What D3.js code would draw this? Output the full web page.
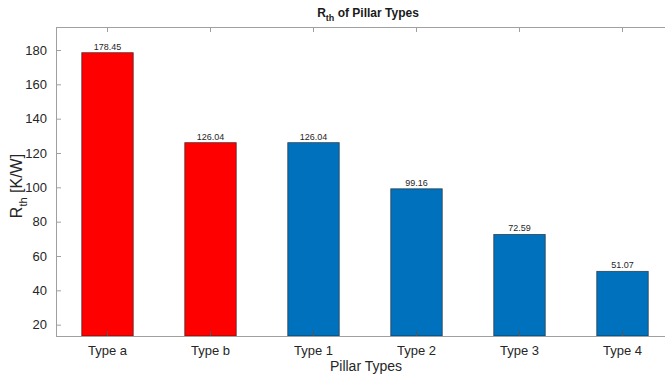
<!DOCTYPE html>
<html>
<head>
<meta charset="utf-8">
<script src="https://cdn.jsdelivr.net/npm/d3@7"></script>
<style>
  html, body { margin: 0; padding: 0; background: #fff; overflow: hidden; }
  svg { font-family: "Liberation Sans", Arial, sans-serif; display: block; overflow: hidden; }
</style>
</head>
<body>
<div id="chart"></div>
<script>
"use strict";

var categories = ["Type a", "Type b", "Type 1", "Type 2", "Type 3", "Type 4"];
var rthValues = [178.45, 126.04, 126.04, 99.16, 72.59, 51.07];
var barColors = ["#ff0000", "#ff0000", "#0072bd", "#0072bd", "#0072bd", "#0072bd"];
var yTicks = [20, 40, 60, 80, 100, 120, 140, 160, 180];

var W = 665, H = 375;
// plot box runs past the right edge of the picture, like the original
var margin = {top: 27, left: 56, right: -9, bottom: 39};
var width = W - margin.left - margin.right;
var height = H - margin.top - margin.bottom;

var svg = d3.select("#chart").append("svg")
    .attr("width", W)
    .attr("height", H);

svg.append("clipPath").attr("id", "vis")
    .append("rect").attr("x", 0).attr("y", 0).attr("width", 656).attr("height", H);

var g = svg.append("g")
    .attr("clip-path", "url(#vis)")
    .append("g")
    .attr("transform", "translate(" + margin.left + "," + margin.top + ")");

var x = d3.scaleBand()
    .domain(categories)
    .range([0, width])
    .paddingInner(0.5)
    .paddingOuter(0.25);

var y = d3.scaleLinear()
    .domain([13.4, 193.4])
    .range([height, 0]);

// bars
g.selectAll("rect.bar")
    .data(rthValues)
    .enter()
    .append("rect")
    .attr("class", "bar")
    .attr("x", (d, i) => x(categories[i]))
    .attr("y", d => y(d))
    .attr("width", x.bandwidth())
    .attr("height", d => height - y(d))
    .attr("fill", (d, i) => barColors[i])
    .attr("stroke", "#1a1a1a")
    .attr("stroke-opacity", 0.7)
    .attr("stroke-width", 0.8);

// value labels
g.selectAll("text.val")
    .data(rthValues)
    .enter()
    .append("text")
    .attr("class", "val")
    .attr("x", (d, i) => x(categories[i]) + x.bandwidth() / 2)
    .attr("y", d => y(d) - 3)
    .attr("text-anchor", "middle")
    .style("font-size", "9px")
    .style("fill", "#262626")
    .text(d => d.toFixed(2));

var axisColor = "#a0a0a0";

// x axis bottom
var xAxis = g.append("g")
    .attr("transform", "translate(0," + height + ")")
    .call(d3.axisBottom(x).tickSizeInner(-5).tickSizeOuter(0).tickPadding(10));
xAxis.select(".domain").remove();
xAxis.selectAll(".tick line").attr("stroke", "#555");
xAxis.selectAll("text").style("font-size", "13px").style("fill", "#262626");

// top ticks
g.append("g")
    .call(d3.axisTop(x).tickSizeInner(-5).tickSizeOuter(0).tickFormat(""))
    .call(a => a.select(".domain").remove())
    .selectAll(".tick line").attr("stroke", axisColor);

// y axis
var yAxis = g.append("g")
    .call(d3.axisLeft(y).tickValues(yTicks).tickSizeInner(-5).tickSizeOuter(0).tickPadding(9));
yAxis.select(".domain").attr("stroke", axisColor);
yAxis.selectAll(".tick line").attr("stroke", axisColor);
yAxis.selectAll("text").style("font-size", "13px").style("fill", "#262626");

// top and bottom box lines, running to the picture edge
svg.append("line")
    .attr("x1", margin.left).attr("x2", W)
    .attr("y1", margin.top + 0.5).attr("y2", margin.top + 0.5)
    .attr("stroke", axisColor);
svg.append("line")
    .attr("x1", margin.left).attr("x2", W)
    .attr("y1", margin.top + height + 0.5).attr("y2", margin.top + height + 0.5)
    .attr("stroke", axisColor);

// x label
svg.append("text")
    .attr("x", 366)
    .attr("y", 371)
    .attr("text-anchor", "middle")
    .style("font-size", "14px")
    .style("fill", "#262626")
    .text("Pillar Types");

// y label
var yl = svg.append("text")
    .attr("transform", "translate(22,186) rotate(-90)")
    .attr("text-anchor", "middle")
    .style("font-size", "16px")
    .style("fill", "#262626");
yl.append("tspan").text("R");
yl.append("tspan").attr("dy", 5).style("font-size", "11px").text("th");
yl.append("tspan").attr("dy", -5).text(" [K/W]");

// title
var t = svg.append("text")
    .attr("x", 368)
    .attr("y", 17)
    .attr("text-anchor", "middle")
    .style("font-size", "12px")
    .style("font-weight", "bold")
    .style("fill", "#1a1a1a");
t.append("tspan").text("R");
t.append("tspan").attr("dy", 4).style("font-size", "9px").text("th");
t.append("tspan").attr("dy", -4).text(" of Pillar Types");
</script>
</body>
</html>
